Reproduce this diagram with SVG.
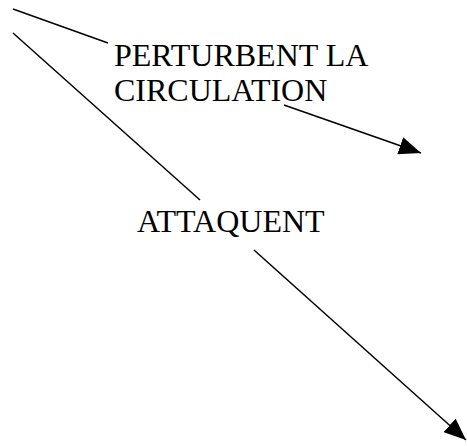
<svg xmlns="http://www.w3.org/2000/svg" width="467" height="446" viewBox="0 0 467 446">
<style>
.c{stroke:#000;stroke-width:1.5;fill:none}
text{font-family:'Liberation Serif','Times New Roman',Times,'DejaVu Serif',serif;font-size:32px;fill:#000}
</style>
<defs>
<marker id="ah" viewBox="0 0 22 18" refX="22" refY="9" markerWidth="22" markerHeight="18" markerUnits="userSpaceOnUse" orient="auto">
<path d="M0,0 L22,9 L0,18 Z" fill="#000"/>
</marker>
</defs>
<rect width="467" height="446" fill="#fff"/>
<g id="connectors">
<line class="c" x1="13" y1="9" x2="108" y2="43"/>
<line class="c" x1="284" y1="105" x2="421" y2="153" marker-end="url(#ah)"/>
<line class="c" x1="13" y1="33" x2="200" y2="200"/>
<line class="c" x1="254" y1="250" x2="466" y2="440" marker-end="url(#ah)"/>
</g>
<g id="label-perturbent">
<text font-family="Liberation Serif, serif" x="114" y="66">PERTURBENT LA</text>
<text font-family="Liberation Serif, serif" x="114" y="101">CIRCULATION</text>
</g>
<g id="label-attaquent">
<text font-family="Liberation Serif, serif" x="137" y="232">ATTAQUENT</text>
</g>
</svg>
